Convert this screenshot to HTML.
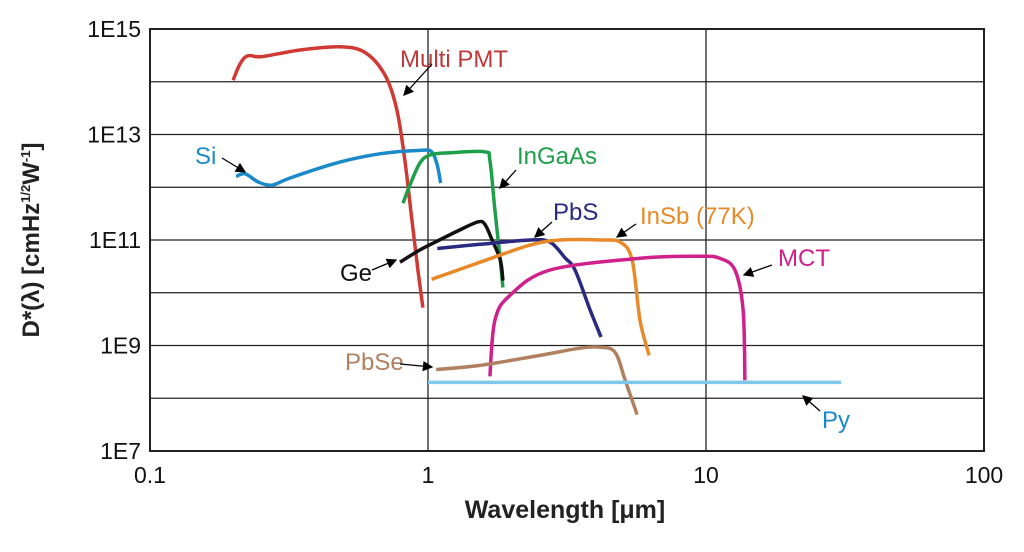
<!DOCTYPE html>
<html><head><meta charset="utf-8"><style>
body{margin:0;background:#fff;width:1024px;height:547px;overflow:hidden;font-family:"Liberation Sans",sans-serif}
svg text{font-family:"Liberation Sans",sans-serif}
</style></head><body>
<svg id="chart" width="1024" height="547" viewBox="0 0 1024 547">
<defs><marker id="ah" markerWidth="8" markerHeight="8" refX="7" refY="4" orient="auto"><path d="M0,0 L8,4 L0,8 z" fill="#000"/></marker></defs>
<g id="grid"></g><g id="series"></g><g id="labels"></g>
</svg>
<script>
const xTicks=[0.1,1,10,100];
const xTickLabels=["0.1","1","10","100"];
const yTickLabels=["1E15","1E13","1E11","1E9","1E7"];
const yTickValues=[1e15,1e13,1e11,1e9,1e7];
const pmtX=[0.199,0.211,0.225,0.253,0.347,0.482,0.593,0.700,0.773,0.826,0.875,0.920,0.959];
const pmtY=[1.07e14,2.2e14,3.1e14,3.0e14,4e14,4.6e14,3.6e14,1.35e14,2.9e13,3.2e12,2.4e11,2.7e10,5.2e9];
const siX=[0.204,0.22,0.245,0.275,0.319,0.482,0.671,0.936,1.03,1.08,1.11];
const siY=[1.6e12,1.8e12,1.26e12,1.1e12,1.5e12,3e12,4.3e12,5e12,4.7e12,2.6e12,1.2e12];
const ingaasX=[0.813,0.861,0.936,1.02,1.2,1.6,1.67,1.74,1.82,1.86];
const ingaasY=[5e11,1.1e12,2.9e12,4.1e12,4.5e12,4.7e12,3.2e12,3.7e11,4.2e10,1.26e10];
const geX=[0.793,0.936,1.10,1.30,1.51,1.60,1.70,1.82,1.86];
const geY=[3.8e10,6.5e10,1e11,1.55e11,2.2e11,2e11,1e11,4.2e10,1.7e10];
const pbsX=[1.08,1.54,2.33,2.75,3.11,3.38,3.83,4.19];
const pbsY=[6.9e10,8.3e10,1e11,9.1e10,4.6e10,2.7e10,4.7e9,1.45e9];
const insbX=[1.03,1.54,2.33,2.99,4.16,4.91,5.42,5.79,6.24];
const insbY=[1.8e10,3.8e10,8e10,1e11,1e11,9.1e10,4.2e10,3e9,6.5e8];
const mctX=[1.67,1.74,1.97,2.75,5.79,9.5,11.2,12.7,13.6,13.8];
const mctY=[2.6e8,3e9,8.9e9,2.7e10,4.5e10,4.9e10,4.5e10,2.7e10,4.7e9,2.2e8];
const pbseX=[1.07,1.54,2.53,3.52,4.16,4.71,5.12,5.65];
const pbseY=[3.5e8,4.2e8,6.5e8,8.9e8,9.3e8,7.4e8,2.2e8,4.9e7];
const pyX=[1,30.6];
const pyY=[2e8,2e8];

const X0=150,X1=984,Y0=29,Y1=451;
function xs(v){return X0+(Math.log10(v)+1)/3*(X1-X0);}
function ys(v){return Y1-(Math.log10(v)-7)/8*(Y1-Y0);}
const NS="http://www.w3.org/2000/svg";
function mk(tag,attrs,parent){const e=document.createElementNS(NS,tag);for(const k in attrs)e.setAttribute(k,attrs[k]);parent.appendChild(e);return e;}
function smooth(P){
  if(P.length<3)return 'M'+P.map(p=>p[0].toFixed(1)+','+p[1].toFixed(1)).join(' L');
  let d='M'+P[0][0].toFixed(1)+','+P[0][1].toFixed(1);
  for(let i=0;i<P.length-1;i++){
    const p0=P[i-1]||P[i],p1=P[i],p2=P[i+1],p3=P[i+2]||P[i+1];
    const c1=[p1[0]+(p2[0]-p0[0])/6,p1[1]+(p2[1]-p0[1])/6];
    const c2=[p2[0]-(p3[0]-p1[0])/6,p2[1]-(p3[1]-p1[1])/6];
    d+=' C'+c1.map(v=>v.toFixed(1)).join(',')+' '+c2.map(v=>v.toFixed(1)).join(',')+' '+p2.map(v=>v.toFixed(1)).join(',');
  }
  return d;
}
const grid=document.getElementById('grid'),ser=document.getElementById('series'),lab=document.getElementById('labels');

for(let d=7;d<=15;d++){
  const l=mk('line',{x1:X0,x2:X1,y1:ys(Math.pow(10,d)),y2:ys(Math.pow(10,d)),stroke:'#222','stroke-width':1.3},grid);
  
  
}
xTicks.forEach(v=>{
  const l=mk('line',{x1:xs(v),x2:xs(v),y1:Y0,y2:Y1,stroke:'#222','stroke-width':1.3},grid);
  
  
});
const fr=mk('rect',{x:X0,y:Y0,width:X1-X0,height:Y1-Y0,fill:'none',stroke:'#222','stroke-width':2},grid);



xTicks.forEach((v,i)=>{
  const t=mk('text',{x:xs(v),y:483,'text-anchor':'middle','font-size':23,fill:'#111'},lab);
  t.textContent=xTickLabels[i];
  
  
});
yTickValues.forEach((v,i)=>{
  const t=mk('text',{x:141,y:ys(v)+8,'text-anchor':'end','font-size':23,fill:'#111'},lab);
  t.textContent=yTickLabels[i];
  
  
});

const S=[
 ['multi-pmt',pmtX,pmtY,'#d03a35'],['si',siX,siY,'#1a8ac8'],['ingaas',ingaasX,ingaasY,'#1ea04a'],
 ['ge',geX,geY,'#111'],['pbs',pbsX,pbsY,'#2a2a80'],['insb',insbX,insbY,'#e88a2a'],
 ['mct',mctX,mctY,'#d0208a'],['pbse',pbseX,pbseY,'#b08060'],['py',pyX,pyY,'#7ec8ec']];
S.forEach(s=>{
  const P=s[1].map((x,i)=>[xs(x),ys(s[2][i])]);
  const p=mk('path',{d:smooth(P),fill:'none',stroke:s[3],'stroke-width':3.5,'stroke-linejoin':'round','stroke-linecap':'butt'},ser);
  
  
});

const L=[
 ['Multi PMT',400,67,'#c0393a',[432,64,404,95],'multi-pmt-label'],
 ['Si',195,164,'#1a8ac8',[222,158,245,172],'si-label'],
 ['InGaAs',517,164,'#1ea04a',[516,170,500,188],'ingaas-label'],
 ['Ge',340,281,'#111',[372,270,396,260],'ge-label'],
 ['PbS',553,220,'#2a2a80',[552,222,535,237],'pbs-label'],
 ['InSb (77K)',640,224,'#e88a2a',[636,224,617,237],'insb-label'],
 ['MCT',778,266,'#d0208a',[772,265,744,275],'mct-label'],
 ['PbSe',345,370,'#b08060',[400,364,432,367],'pbse-label'],
 ['Py',822,428,'#1a8ac8',[820,411,803,396],'py-label']];
L.forEach(l=>{
  const t=mk('text',{x:l[1],y:l[2],'font-size':24,fill:l[3]},lab);
  t.textContent=l[0];
  
  
  const a=l[4];
  const ar=mk('line',{x1:a[0],y1:a[1],x2:a[2],y2:a[3],stroke:'#000','stroke-width':1.3,'marker-end':'url(#ah)'},lab);
  
  
});
</script>
<div style="position:absolute;left:0;width:1024px;top:496px;text-align:center;padding-left:106px;box-sizing:border-box;font-weight:bold;font-size:25px;color:#222">Wavelength [&mu;m]</div>
<div style="position:absolute;left:32px;top:240px;transform:translate(-50%,-50%) rotate(-90deg);white-space:nowrap;font-weight:bold;font-size:24px;color:#222">D*(&lambda;) [cmHz<sup style="font-size:13px">1/2</sup>W<sup style="font-size:13px">-1</sup>]</div>
</body></html>
